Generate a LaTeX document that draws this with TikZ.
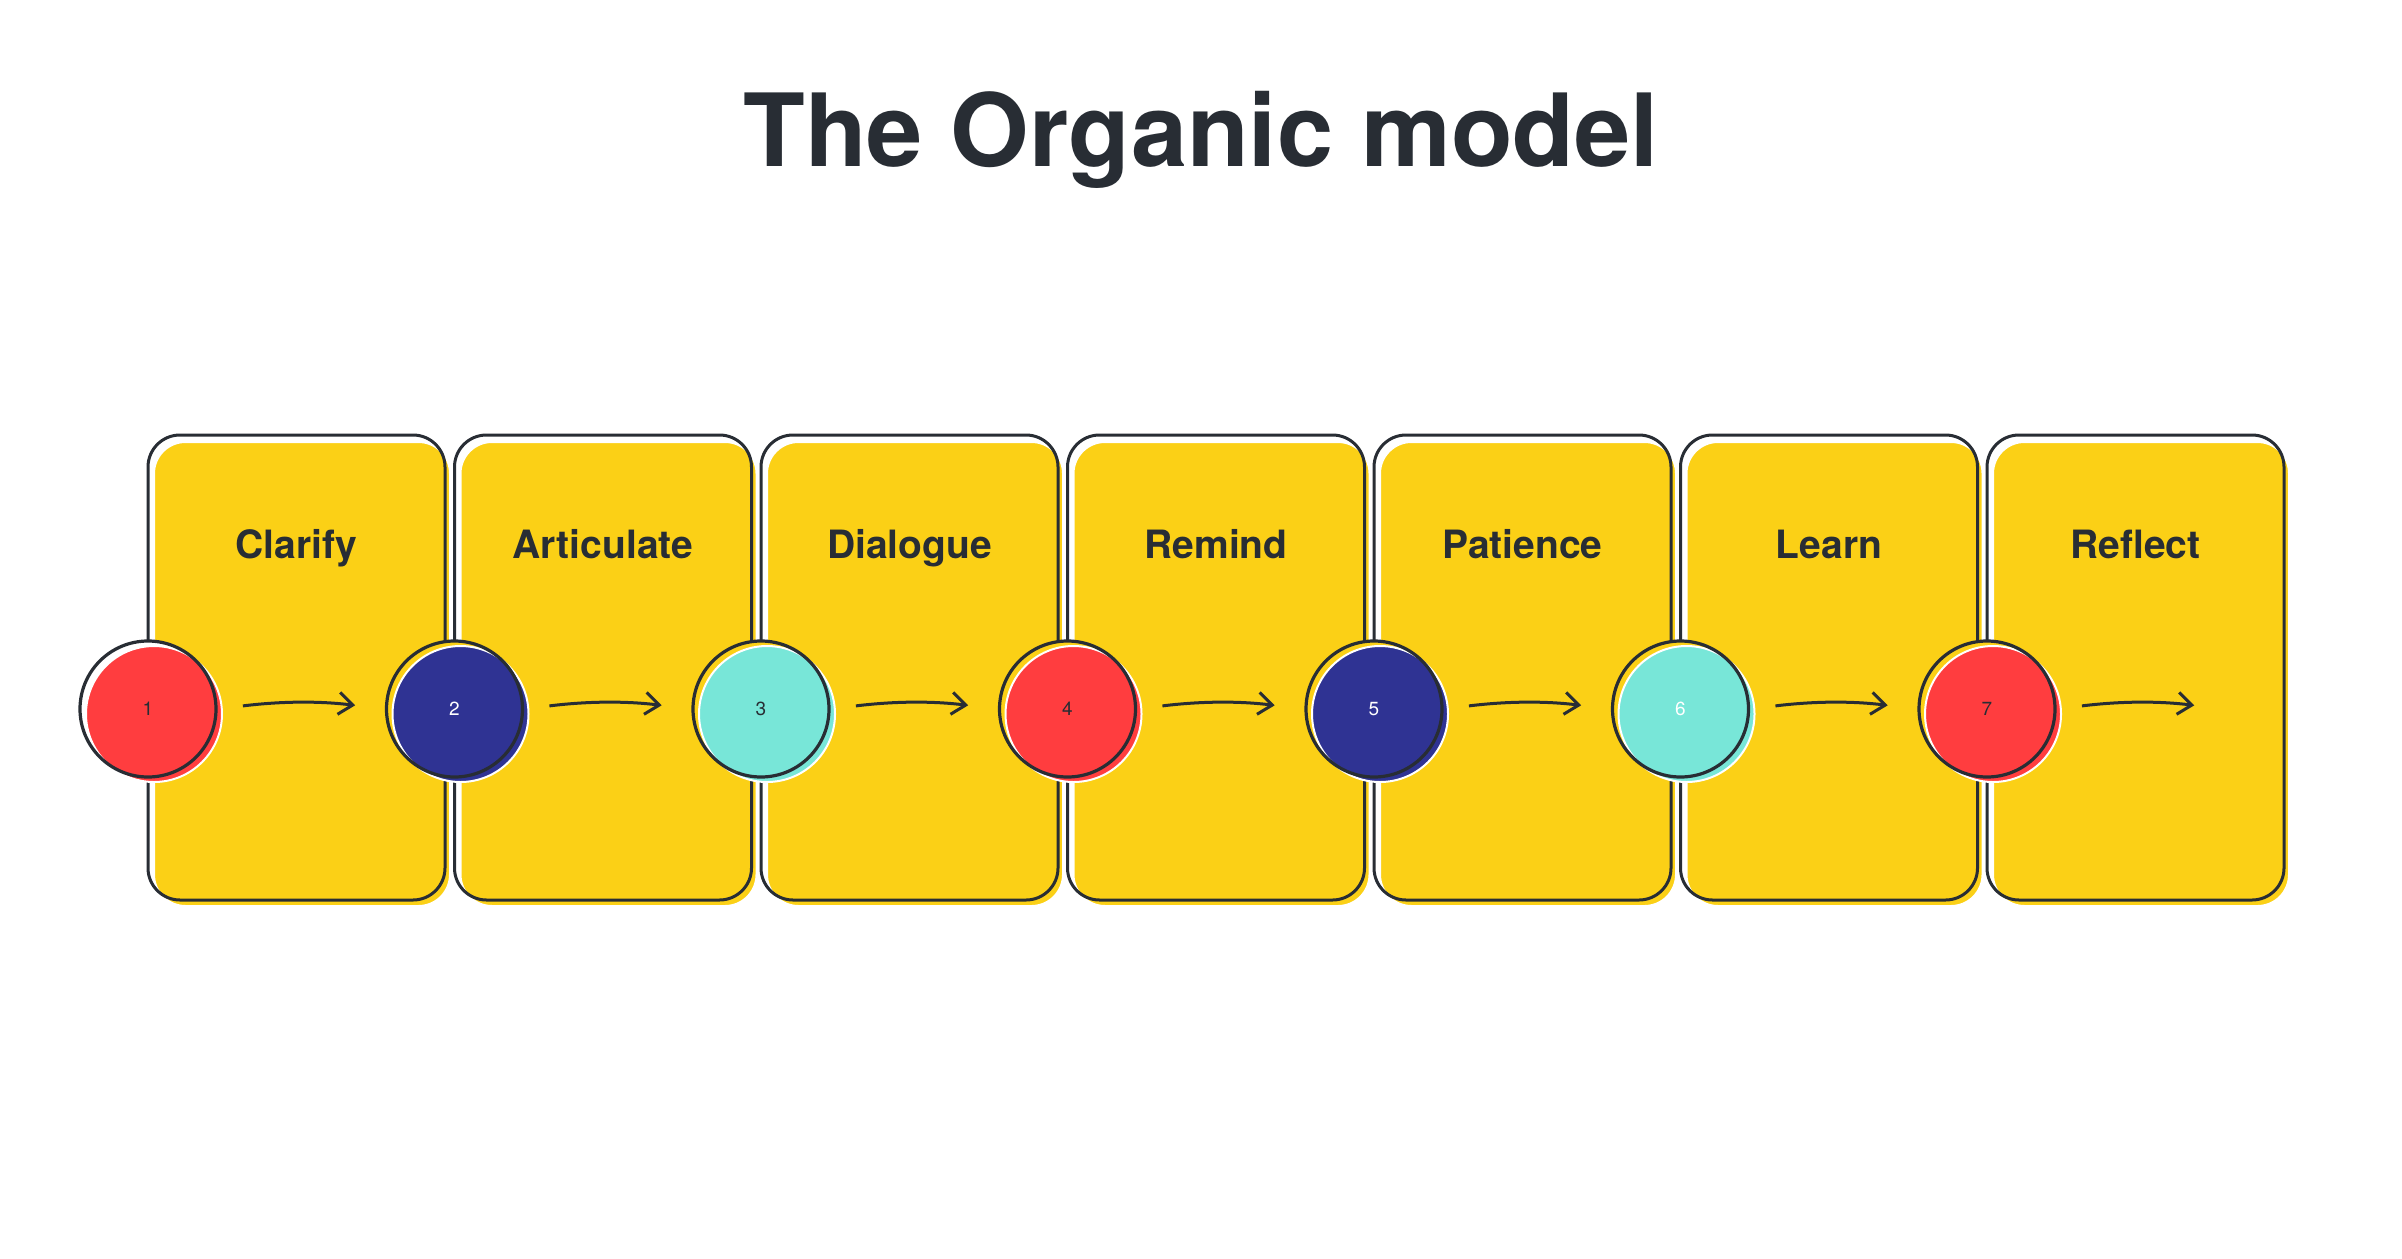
\documentclass[tikz,border=0pt]{standalone}
\usepackage{fontspec}
\setmainfont{TeX Gyre Heros}
\usetikzlibrary{arrows.meta,positioning,shapes}
\definecolor{ink}{HTML}{282D34}
\definecolor{cardyellow}{HTML}{FBD016}
\definecolor{stagered}{HTML}{FF3D3F}
\definecolor{stagenavy}{HTML}{2F3393}
\definecolor{stageteal}{HTML}{78E6D8}
\tikzset{
  card/.style={rectangle, draw=ink, line width=1.5pt, rounded corners=16pt,
    minimum width=148.5pt, minimum height=232.5pt, inner sep=0pt,
    preaction={fill=cardyellow, draw=white, transform canvas={xshift=2.75pt, yshift=-3.25pt}}},
  cardtext/.style={anchor=base, text=ink, font=\bfseries\fontsize{19.5}{22}\selectfont},
  stage/.style n args={3}{circle, draw=ink, line width=1.6pt, minimum size=68pt,
    inner sep=0pt, text=#3, font=\fontsize{9.5}{10}\selectfont,
    preaction={fill=#1},
    preaction={fill=#2, draw=white, line width=1pt, transform canvas={xshift=3pt, yshift=-2.5pt}}},
  flow/.style={draw=ink, line width=1.5pt, -{Straight Barb[length=7pt, width=11pt]},
    shorten <=12.75pt, shorten >=15pt}
}
\begin{document}
\begin{tikzpicture}[x = 0.5pt, y = -0.5pt]
\useasboundingbox[fill=white] (0,0) rectangle (2402,1258);
\node[anchor=base, text=ink, font=\bfseries\fontsize{50.5}{56}\selectfont] (title) at (1201,166) {The Organic model};
% Cards
\node[card] (clarify) at (296.5,667.5) {};
\node[card] (articulate) at (603,667.5) {};
\node[card] (dialogue) at (909.5,667.5) {};
\node[card] (remind) at (1216,667.5) {};
\node[card] (patience) at (1522.5,667.5) {};
\node[card] (learn) at (1829,667.5) {};
\node[card] (reflect) at (2135.5,667.5) {};
\node[cardtext] at (296.5,558) {Clarify};
\node[cardtext] at (603,558) {Articulate};
\node[cardtext] at (909.5,558) {Dialogue};
\node[cardtext] at (1216,558) {Remind};
\node[cardtext] at (1522.5,558) {Patience};
\node[cardtext] at (1829,558) {Learn};
\node[cardtext] at (2135.5,558) {Reflect};
% Stage circles
\node[stage={white}{stagered}{ink}] (c1) at (148,709) {1};
\node[stage={cardyellow}{stagenavy}{white}] (c2) at (454.5,709) {2};
\node[stage={cardyellow}{stageteal}{ink}] (c3) at (761,709) {3};
\node[stage={cardyellow}{stagered}{ink}] (c4) at (1067.5,709) {4};
\node[stage={cardyellow}{stagenavy}{white}] (c5) at (1374,709) {5};
\node[stage={cardyellow}{stageteal}{white}] (c6) at (1680.5,709) {6};
\node[stage={cardyellow}{stagered}{ink}] (c7) at (1987,709) {7};
\coordinate (c8) at (2224,709);
% Arrows
\draw[flow] (c1.east) to[bend left=7] (c2.west);
\draw[flow] (c2.east) to[bend left=7] (c3.west);
\draw[flow] (c3.east) to[bend left=7] (c4.west);
\draw[flow] (c4.east) to[bend left=7] (c5.west);
\draw[flow] (c5.east) to[bend left=7] (c6.west);
\draw[flow] (c6.east) to[bend left=7] (c7.west);
\draw[flow] (c7.east) to[bend left=7] (c8);
\end{tikzpicture}
\end{document}
